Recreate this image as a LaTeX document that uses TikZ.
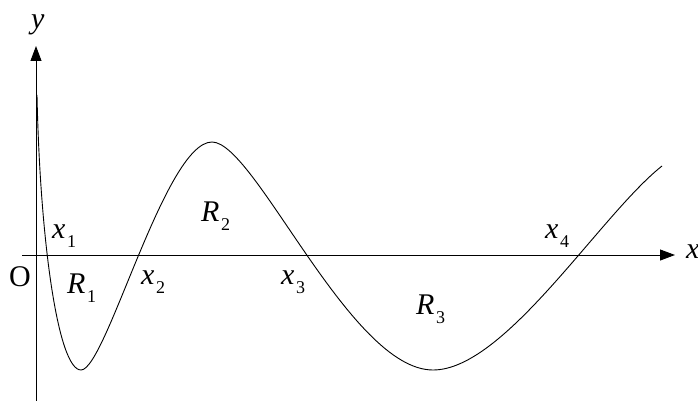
\documentclass[tikz,border=0pt]{standalone}
\usepackage{fontspec}
\setmainfont{Liberation Serif}
\usetikzlibrary{arrows.meta}
\newcommand\mysub[1]{\hspace{1.5pt}\raisebox{-9pt}{\fontsize{18}{18}\selectfont #1}}
\tikzset{
  lbl/.style={anchor=base west,inner sep=0pt,font=\fontsize{30}{30}\selectfont},
  axis/.style={line width=0.9pt,-{Triangle[length=15pt,width=11pt]}},
  curve/.style={line width=0.9pt}
}
\begin{document}
\begin{tikzpicture}[x=1pt,y=-1pt]
\useasboundingbox (0,0) rectangle (698,401);
\coordinate (xs) at (22,255);
\coordinate (xe) at (675,255);
\coordinate (ys) at (36,401);
\coordinate (ye) at (36,46);
\draw[axis] (xs) -- (xe);
\draw[axis] (ys) -- (ye);
\coordinate (c0) at (37,95);
\coordinate (m1) at (81,370);
\coordinate (M1) at (212,142);
\coordinate (m2) at (433,370);
\coordinate (c4) at (662,166);
\draw[curve] (c0) .. controls (40,240) and (58,370) .. (m1)
  .. controls (106,370) and (165,142) .. (M1)
  .. controls (255,142) and (350,370) .. (m2)
  .. controls (505,370) and (600,215) .. (c4);
\node[lbl] (ly) at (31,29) {\textit{y}};
\node[lbl] (lx) at (686,258) {\textit{x}};
\node[lbl] (lO) at (9,286) {O};
\node[lbl] (lx1) at (52,238) {\textit{x}\mysub{1}};
\node[lbl] (lR1) at (67,293) {\textit{R}\mysub{1}};
\node[lbl] (lx2) at (141,284) {\textit{x}\mysub{2}};
\node[lbl] (lx3) at (281,284) {\textit{x}\mysub{3}};
\node[lbl] (lR2) at (201,221) {\textit{R}\mysub{2}};
\node[lbl] (lR3) at (416,314) {\textit{R}\mysub{3}};
\node[lbl] (lx4) at (545,238) {\textit{x}\mysub{4}};
\end{tikzpicture}
\end{document}
